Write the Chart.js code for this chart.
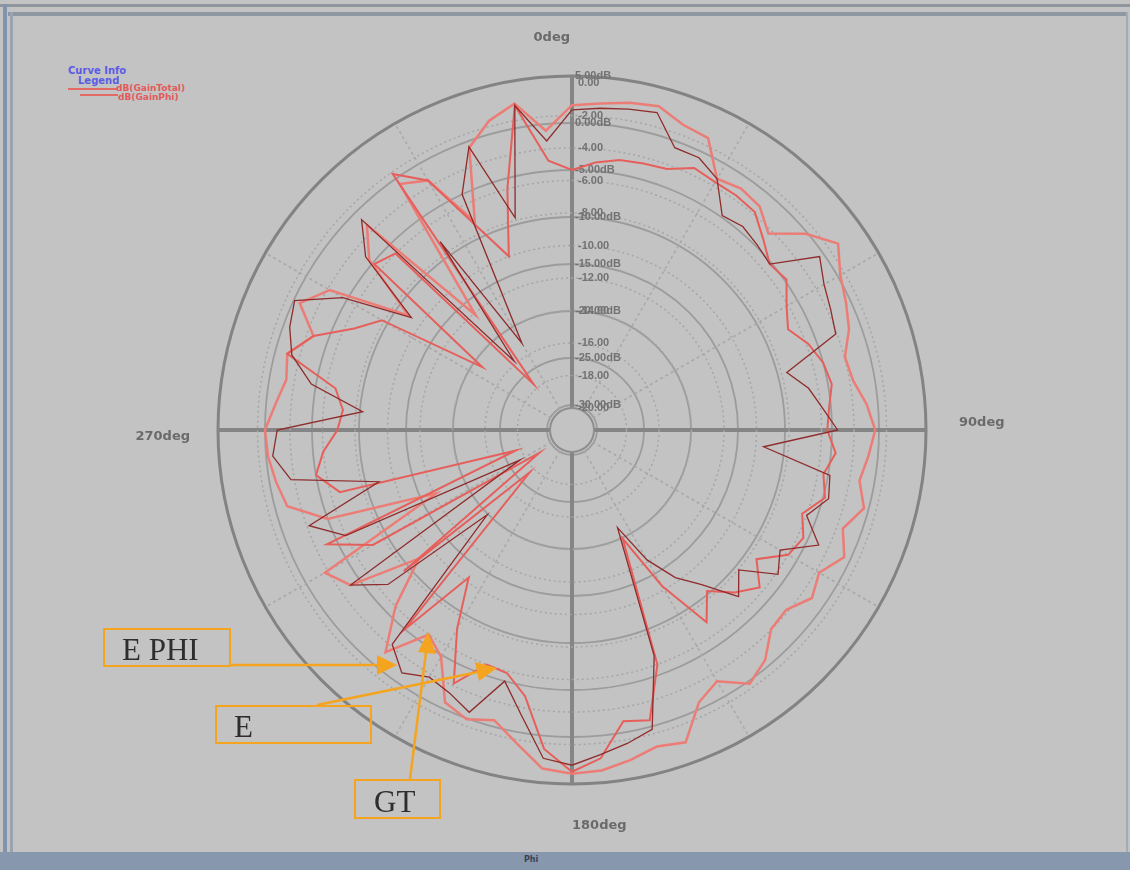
<!DOCTYPE html>
<html>
<head>
<meta charset="utf-8">
<script src="https://cdn.jsdelivr.net/npm/chart.js@4/dist/chart.umd.min.js"></script>
<style>
html,body{margin:0;padding:0;}
body{width:1130px;height:870px;background:#c3c3c3;position:relative;overflow:hidden;font-family:"DejaVu Sans",sans-serif;}
.band{position:absolute;}
#cv{position:absolute;left:0;top:0;}
.note{position:absolute;box-sizing:border-box;border:2.5px solid #f5a41f;font-family:"Liberation Serif",serif;color:#2e2e2e;font-size:31px;line-height:1;}
.legend{position:absolute;font:bold 10px "DejaVu Sans",sans-serif;white-space:nowrap;}
</style>
</head>
<body>
<!-- window frame -->
<div class="band" style="left:0;top:4px;width:1130px;height:3px;background:#8f969d"></div>
<div class="band" style="left:8px;top:12px;width:1118px;height:4px;background:#8e98a3"></div>
<div class="band" style="left:3px;top:4px;width:4px;height:850px;background:#8193ad"></div>
<div class="band" style="left:10px;top:12px;width:3px;height:840px;background:#9aa4b0"></div>
<div class="band" style="left:1126px;top:12px;width:2px;height:840px;background:#a3abb3"></div>
<div class="band" style="left:0;top:852px;width:1130px;height:18px;background:#8697ae"></div>
<div class="legend" style="left:524px;top:855px;font-size:8px;color:#3a4352">Phi</div>

<!-- curve legend -->
<div class="legend" style="left:68px;top:65px;color:#5b5ce6">Curve Info</div>
<div class="legend" style="left:78px;top:75px;color:#5b5ce6">Legend</div>
<div class="band" style="left:68px;top:88px;width:50px;height:2px;background:#e46a66"></div>
<div class="band" style="left:80px;top:94px;width:38px;height:2px;background:#e46a66"></div>
<div class="legend" style="left:116px;top:83px;color:#e25a5a;font-size:9px">dB(GainTotal)</div>
<div class="legend" style="left:118px;top:92px;color:#e25a5a;font-size:9px">dB(GainPhi)</div>

<canvas id="cv" width="1130" height="870"></canvas>

<!-- callouts -->
<div class="note" style="left:103px;top:628px;width:128px;height:39px;padding:4px 0 0 17px">E PHI</div>
<div class="note" style="left:215px;top:705px;width:157px;height:39px;padding:4px 0 0 17px">E</div>
<div class="note" style="left:354px;top:779px;width:87px;height:40px;padding:5px 0 0 18px">GT</div>
<svg width="1130" height="870" style="position:absolute;left:0;top:0;pointer-events:none">
  <g stroke="#f5a41f" stroke-width="2.5" fill="none">
    <line x1="230" y1="665" x2="380" y2="665"/>
    <line x1="317" y1="705" x2="478" y2="672"/>
    <line x1="410" y1="779" x2="426" y2="652"/>
  </g>
  <g fill="#f5a41f">
    <polygon points="397,665 377,655 377,675"/>
    <polygon points="497,668 475,662 479,681"/>
    <polygon points="428,632 418,652 436,654"/>
  </g>
</svg>

<script>
// azimuth of each sample, degrees clockwise from the top
const angles = [0,5,10,15,20,25,30,35,40,45,50,55,60,65,70,75,80,85,90,95,100,105,110,115,
  120,125,130,135,140,145,150,155,160,165,170,175,180,185,190,195,200,205,210,215,220,225,230,235,
  240,245,250,255,260,265,270,275,280,285,290,295,300,305,310,315,320,325,330,335,340,345,350,355];

// pattern cuts in dB
const gainTotal = [1.9,2.2,2.7,3.0,1.9,1.6,-1.8,-1.3,-1.6,-3.1,-0.2,1.9,0.3,-0.5,-1.3,-2.6,-2.3,-1.2,
  -0.4,-1.0,-1.6,-0.5,-2.0,-0.7,-2.3,-1.5,-2.9,-2.7,-0.7,0.3,-1.8,-0.7,2.7,2.2,3.0,3.7,
  3.9,3.5,1.2,-0.7,0.1,-0.7,-4.8,-6.1,-1.8,-6.1,-11.4,-3.9,-2.3,-16.7,-5.0,-1.3,-0.7,-0.2,
  0.0,-1.0,-1.8,-1.3,-3.4,-0.7,-2.9,-11.4,-4.5,-1.8,-16.7,-0.7,-2.0,-8.2,-0.7,1.4,2.6,-0.7];
const ePhi = [1.4,1.7,2.0,2.3,-0.7,-0.7,-1.8,-4.8,-4.4,-4.8,-5.2,-0.5,-1.7,-2.3,-2.8,-9.0,-7.1,-5.9,
  -4.4,-12.2,-4.8,-4.4,-6.1,-3.7,-7.1,-5.9,-9.5,-7.6,-11.2,-13.5,-16.7,-21.2,-7.1,0.3,1.2,2.0,
  3.0,2.4,-1.8,-5.0,-0.7,-1.8,-2.3,-1.1,-2.9,-19.9,-7.1,-3.9,-26.3,-6.1,-2.9,-11.4,-2.3,-0.7,
  -1.3,-10.3,-4.5,-1.8,-0.7,-0.1,-4.5,-11.8,-4.0,-1.0,-23.1,-8.2,-22.0,-5.0,-0.6,-9.3,2.4,-1.8];
const eField = [-5.0,-4.1,-3.5,-3.3,-3.1,-1.9,-2.2,-2.2,-2.4,-3.9,-5.2,-4.8,-6.3,-7.3,-5.9,-5.0,-4.6,-5.2,
  -5.5,-4.5,-5.5,-4.8,-6.6,-5.5,-6.1,-8.7,-6.6,-8.2,-10.3,-7.7,-13.5,-19.9,-6.1,-0.7,-1.2,2.4,
  3.7,1.4,-3.9,-5.9,-6.1,-2.9,-8.2,-13.5,-5.0,-26.3,-9.3,-28.4,-8.2,-3.9,-26.3,-7.1,-5.0,-6.1,
  -7.7,-8.2,-7.1,-1.3,-3.4,-7.1,-9.3,-21.0,-5.2,-6.1,-26.3,0.6,-2.0,-8.8,-13.0,-6.1,2.4,-3.9];

// radial tick values of the two overlaid scales
const dbTicks = [5,0,-5,-10,-15,-20,-25,-30];
const ampTicks = [0,-2,-4,-6,-8,-10,-12,-14,-16,-18,-20];
// direction captions: [category index, text]
const directions = [[0,'0deg'],[18,'90deg'],[36,'180deg'],[54,'270deg']];

const BG = '#c3c3c3';
const onStep = (v, step, lo, hi) => v >= lo - 1e-6 && v <= hi + 1e-6 && Math.abs(v / step - Math.round(v / step)) < 1e-6;

const polarDecor = {
  id: 'polarDecor',
  beforeDatasetsDraw(chart) {
    const s1 = chart.scales.r, s2 = chart.scales.r2, ctx = chart.ctx;
    const cx = s1.xCenter, cy = s1.yCenter;
    ctx.save();
    // centre hole
    const hole = s2.getDistanceFromCenterForValue(-20);
    ctx.beginPath();
    ctx.arc(cx, cy, hole, 0, Math.PI * 2);
    ctx.fillStyle = BG; ctx.fill();
    ctx.lineWidth = 2; ctx.strokeStyle = '#8e8e8e'; ctx.stroke();
    // radial tick labels
    ctx.textAlign = 'left'; ctx.textBaseline = 'middle';
    ctx.font = 'bold 11px "Liberation Sans", sans-serif';
    ctx.fillStyle = '#727272';
    ampTicks.forEach(v => ctx.fillText(v.toFixed(2), cx + 6, cy - s2.getDistanceFromCenterForValue(v)));
    dbTicks.forEach(v => ctx.fillText(v.toFixed(2) + 'dB', cx + 3, cy - s1.getDistanceFromCenterForValue(v)));
    // direction captions
    ctx.font = 'bold 13px "DejaVu Sans", sans-serif';
    ctx.fillStyle = '#6a6a6a';
    const R = s1.drawingArea;
    directions.forEach(([i, t]) => {
      if (i === 0) { const p = s1.getPointPosition(i, R + 38); ctx.textAlign = 'right'; ctx.fillText(t, p.x - 2, p.y); }
      else if (i === 18) { const p = s1.getPointPosition(i, R + 33); ctx.textAlign = 'left'; ctx.fillText(t, p.x, p.y - 7); }
      else if (i === 36) { const p = s1.getPointPosition(i, R + 42); ctx.textAlign = 'left'; ctx.fillText(t, p.x, p.y); }
      else { const p = s1.getPointPosition(i, R + 28); ctx.textAlign = 'right'; ctx.fillText(t, p.x, p.y + 7); }
    });
    ctx.restore();
  }
};

const lineSet = (label, data, color, width) => ({
  label, data, borderColor: color, borderWidth: width, fill: false,
  pointRadius: 0, pointHoverRadius: 0, tension: 0, backgroundColor: 'transparent'
});

new Chart(document.getElementById('cv'), {
  type: 'radar',
  data: {
    labels: angles.map(a => a + 'deg'),
    datasets: [
      lineSet('E PHI', ePhi, '#8f2b2b', 1.3),
      lineSet('E', eField, '#e65f5b', 2),
      lineSet('GT', gainTotal, '#ec7d76', 2.5)
    ]
  },
  options: {
    responsive: false,
    animation: false,
    layout: { padding: { left: 218, right: 204, top: 76, bottom: 86 } },
    plugins: { legend: { display: false }, tooltip: { enabled: false } },
    scales: {
      r: {
        type: 'radialLinear', axis: 'r',
        min: -32.66, max: 5,
        ticks: { display: false, stepSize: 5 },
        pointLabels: { display: false },
        grid: {
          circular: true,
          color: c => c.tick && c.tick.value >= 4.9 ? '#838383' : '#9c9c9c',
          lineWidth: c => !c.tick || !onStep(c.tick.value, 5, -30, 5) ? 0 : (c.tick.value >= 4.9 ? 3 : 1.8)
        },
        angleLines: {
          display: true,
          color: c => c.index % 18 === 0 ? '#858585' : '#a9a9a9',
          lineWidth: c => c.index % 18 === 0 ? 4 : (c.index % 6 === 0 ? 1.5 : 0),
          borderDash: c => c.index % 18 === 0 ? [] : [3, 3]
        }
      },
      r2: {
        type: 'radialLinear', axis: 'r',
        min: -21.354, max: 0.431,
        ticks: { display: false, stepSize: 2 },
        pointLabels: { display: false },
        angleLines: { display: false },
        grid: {
          circular: true,
          color: '#a6a6a6',
          lineWidth: c => c.tick && onStep(c.tick.value, 2, -18, 0) ? 1.5 : 0
        },
        border: { dash: [2, 3] }
      }
    }
  },
  plugins: [polarDecor]
});
</script>
</body>
</html>
